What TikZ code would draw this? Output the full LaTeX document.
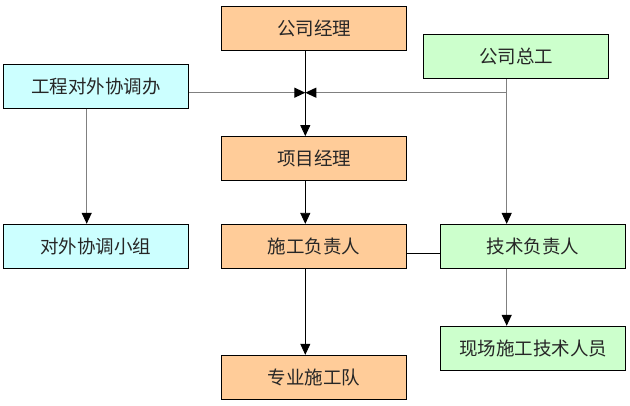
\documentclass[tikz,border=0pt]{standalone}
\usepackage{fontspec}
\newfontfamily\cjk{Noto Sans CJK SC}
\usetikzlibrary{arrows.meta,calc}
\definecolor{orgfill}{HTML}{FFCC99}
\definecolor{grnfill}{HTML}{CCFFCC}
\definecolor{cyanfill}{HTML}{CCFFFF}
\definecolor{lgray}{HTML}{808080}
\begin{document}
\begin{tikzpicture}[x=1pt,y=-1pt,
  box/.style={draw=black,line width=0.8pt,minimum width=185pt,minimum height=44pt,inner sep=0pt,font=\cjk\fontsize{18.5}{20}\selectfont,text=black!85},
  obox/.style={box,fill=orgfill},
  gbox/.style={box,fill=grnfill},
  cbox/.style={box,fill=cyanfill},
  blk/.style={draw=black,line width=0.8pt},
  gry/.style={draw=lgray,line width=1.2pt},
  tip/.style={-{Triangle[length=11pt,width=10pt,color=black]}}
]
\useasboundingbox (0,0) rectangle (630,406);
\node[obox] (mgr) at (314,28) {公司经理};
\node[gbox] (zg) at (516,56.8) {公司总工};
\node[cbox] (xtb) at (96,86.3) {工程对外协调办};
\node[obox] (xmjl) at (314,158.5) {项目经理};
\node[cbox] (xtxz) at (96,246.2) {对外协调小组};
\node[obox] (sgfzr) at (314,246.3) {施工负责人};
\node[gbox] (jsfzr) at (533,246.3) {技术负责人};
\node[gbox] (xcry) at (533,348.2) {现场施工技术人员};
\node[obox] (zysgd) at (314,377.2) {专业施工队};
\coordinate (cx) at (305.3,92.7);
\coordinate (rx) at (506.7,92.7);
\coordinate (lx) at (86.7,0);
% center column
\draw[blk,tip] (mgr.south -| cx) -- (xmjl.north -| cx);
\draw[blk,tip] (xmjl.south -| cx) -- (sgfzr.north -| cx);
\draw[blk,tip] (sgfzr.south -| cx) -- (zysgd.north -| cx);
% horizontal feeds
\draw[gry,tip] (xtb.east |- cx) -- (cx);
\draw[gry] (zg.south -| rx) -- (rx);
\draw[gry,tip] (rx) -- (cx);
\draw[gry,tip] (rx) -- (jsfzr.north -| rx);
\draw[gry,tip] (jsfzr.south -| rx) -- (xcry.north -| rx);
\draw[gry,tip] (xtb.south -| lx) -- (xtxz.north -| lx);
\draw[blk] ($(sgfzr.east)+(0,6.7)$) -- ($(jsfzr.west)+(0,6.7)$);
\end{tikzpicture}
\end{document}
